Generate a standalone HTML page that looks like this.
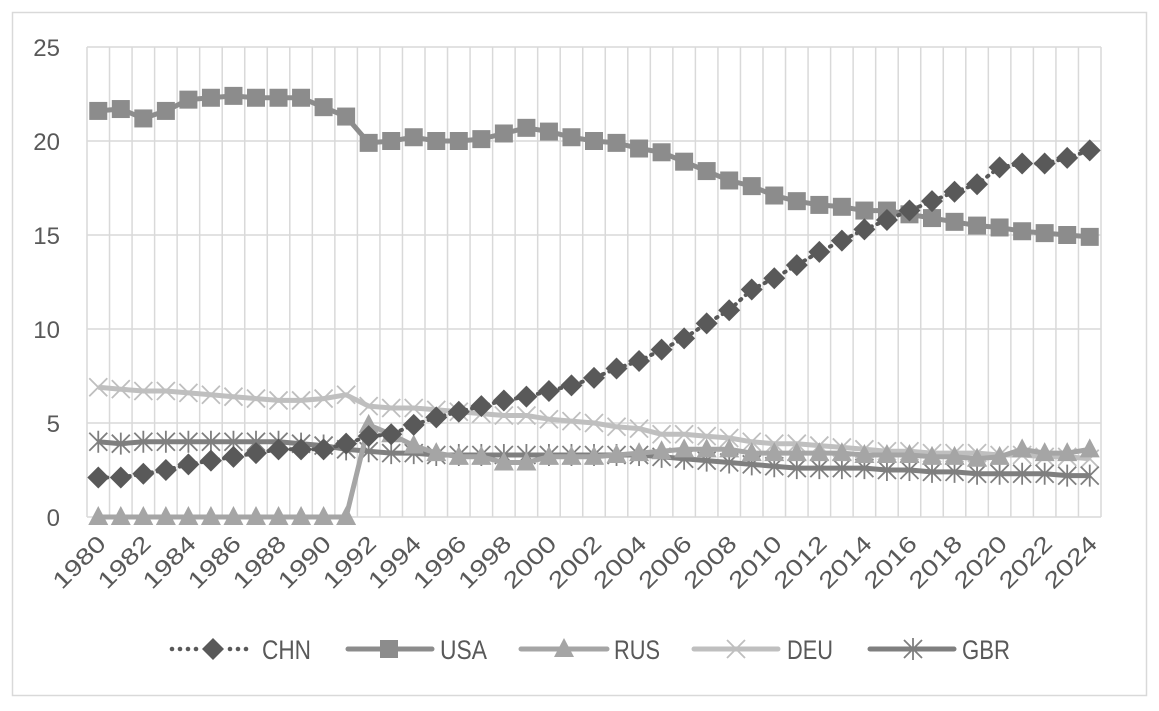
<!DOCTYPE html>
<html><head><meta charset="utf-8"><style>
html,body{margin:0;padding:0;background:#fff;}
svg{display:block;font-family:"Liberation Sans",sans-serif;}
</style></head><body>
<svg id="s" width="1159" height="711" xmlns="http://www.w3.org/2000/svg"></svg>
<script>
const S=document.getElementById('s');
let h='<rect x="12.5" y="12.5" width="1134" height="683" fill="#fff" stroke="#d9d9d9" stroke-width="1.5"/>';
const L=87,R=1101,Y0=517,pu=(517-47)/25,n=45,cw=(R-L)/n;
const X=i=>L+cw*(i+0.5), Y=v=>Y0-v*pu;
for(let k=1;k<=5;k++)h+=`<line x1="${L}" x2="${R}" y1="${Y(k*5)}" y2="${Y(k*5)}" stroke="#d9d9d9" stroke-width="1.5"/>`;
for(let i=0;i<=n;i++)h+=`<line x1="${L+cw*i}" x2="${L+cw*i}" y1="${Y(25)}" y2="${Y0}" stroke="#d9d9d9" stroke-width="1.5"/>`;
h+=`<line x1="${L}" x2="${R}" y1="${Y0}" y2="${Y0}" stroke="#d9d9d9" stroke-width="1.5"/>`;
for(let k=0;k<=5;k++)h+=`<text x="60" y="${Y(k*5)+9}" font-size="24" fill="#595959" text-anchor="end">${k*5}</text>`;
for(let i=0;i<n;i+=2){const x=X(i);h+=`<text transform="translate(${x+9},${545}) rotate(-45)" font-size="23" fill="#595959" text-anchor="end" textLength="64" lengthAdjust="spacingAndGlyphs">${1980+i}</text>`;}
const D={
CHN:[2.1,2.1,2.3,2.5,2.8,3.0,3.2,3.4,3.6,3.6,3.6,3.9,4.3,4.4,4.9,5.3,5.6,5.9,6.2,6.4,6.7,7.0,7.4,7.9,8.3,8.9,9.5,10.3,11.0,12.1,12.7,13.4,14.1,14.7,15.3,15.8,16.3,16.8,17.3,17.7,18.6,18.8,18.8,19.1,19.5],
USA:[21.6,21.7,21.2,21.6,22.2,22.3,22.4,22.3,22.3,22.3,21.8,21.3,19.9,20.0,20.2,20.0,20.0,20.1,20.4,20.7,20.5,20.2,20.0,19.9,19.6,19.4,18.9,18.4,17.9,17.6,17.1,16.8,16.6,16.5,16.3,16.3,16.1,15.9,15.7,15.5,15.4,15.2,15.1,15.0,14.9],
RUS:[0,0,0,0,0,0,0,0,0,0,0,0,4.9,4.4,3.8,3.4,3.2,3.2,2.9,2.9,3.2,3.2,3.2,3.3,3.4,3.5,3.6,3.6,3.6,3.4,3.4,3.4,3.4,3.4,3.3,3.3,3.3,3.2,3.2,3.1,3.2,3.6,3.4,3.4,3.6],
DEU:[6.9,6.8,6.7,6.7,6.6,6.5,6.4,6.3,6.2,6.2,6.3,6.5,5.9,5.8,5.8,5.7,5.6,5.5,5.4,5.4,5.2,5.1,5.0,4.8,4.7,4.4,4.4,4.3,4.2,4.0,3.9,3.9,3.8,3.7,3.6,3.5,3.5,3.4,3.4,3.4,3.3,3.3,3.2,3.2,3.1],
GBR:[4.0,3.9,4.0,4.0,4.0,4.0,4.0,4.0,4.0,3.9,3.8,3.6,3.5,3.4,3.4,3.3,3.3,3.3,3.3,3.3,3.3,3.3,3.3,3.3,3.3,3.2,3.1,3.0,2.9,2.8,2.7,2.6,2.6,2.6,2.6,2.5,2.5,2.4,2.4,2.3,2.3,2.3,2.3,2.2,2.2]};
const C={CHN:'#595959',USA:'#8c8c8c',RUS:'#a5a5a5',DEU:'#bfbfbf',GBR:'#7f7f7f'};
function mk(t,x,y,c){
 if(t=='CHN')return `<path d="M${x} ${y-11}L${x+11} ${y}L${x} ${y+11}L${x-11} ${y}Z" fill="${c}"/>`;
 if(t=='USA')return `<rect x="${x-9}" y="${y-9}" width="18" height="18" fill="${c}"/>`;
 if(t=='RUS')return `<path d="M${x} ${y-11}L${x+10} ${y+8}L${x-10} ${y+8}Z" fill="${c}"/>`;
 if(t=='DEU')return `<path d="M${x-9} ${y-9}L${x+9} ${y+9}M${x+9} ${y-9}L${x-9} ${y+9}" stroke="${c}" stroke-width="1.8"/>`;
 return `<path d="M${x-9} ${y-9}L${x+9} ${y+9}M${x+9} ${y-9}L${x-9} ${y+9}M${x} ${y-11}V${y+11}" stroke="${c}" stroke-width="1.8"/>`;
}
for(const t of ['DEU','GBR','RUS','USA','CHN']){
 const d=D[t],c=C[t];
 const pts=d.map((v,i)=>X(i).toFixed(1)+','+Y(v).toFixed(1)).join(' ');
 if(t=='CHN')h+=`<polyline points="${pts}" fill="none" stroke="${c}" stroke-width="4" stroke-dasharray="1.5 6" stroke-linecap="round"/>`;
 else h+=`<polyline points="${pts}" fill="none" stroke="${c}" stroke-width="5" stroke-linejoin="round"/>`;
 d.forEach((v,i)=>h+=mk(t,X(i),Y(v),c));
}
// [name, lineStart, lineEnd, markerX, textX, textW]
const lg=[['CHN',170,246,213,262,49],['USA',348,432,389,440,47],['RUS',521,607,564,614,46],['DEU',694,778,736,787,46],['GBR',870,954,913,962,48]];
const ly=649;
for(const [t,a,b,m,tx,tw] of lg){const c=C[t];
 if(t=='CHN'){for(let k=0;k<4;k++)h+=`<circle cx="${a+2+k*8}" cy="${ly}" r="2.3" fill="${c}"/>`;for(let k=0;k<3;k++)h+=`<circle cx="${m+17+k*8}" cy="${ly}" r="2.3" fill="${c}"/>`;}
 else h+=`<line x1="${a}" x2="${b}" y1="${ly}" y2="${ly}" stroke="${c}" stroke-width="5" stroke-linecap="round"/>`;
 h+=mk(t,m,ly,c);
 h+=`<text x="${tx}" y="${ly+10}" font-size="27" fill="#595959" textLength="${tw}" lengthAdjust="spacingAndGlyphs">${t}</text>`;
}
S.innerHTML=h;
</script>
</body></html>
